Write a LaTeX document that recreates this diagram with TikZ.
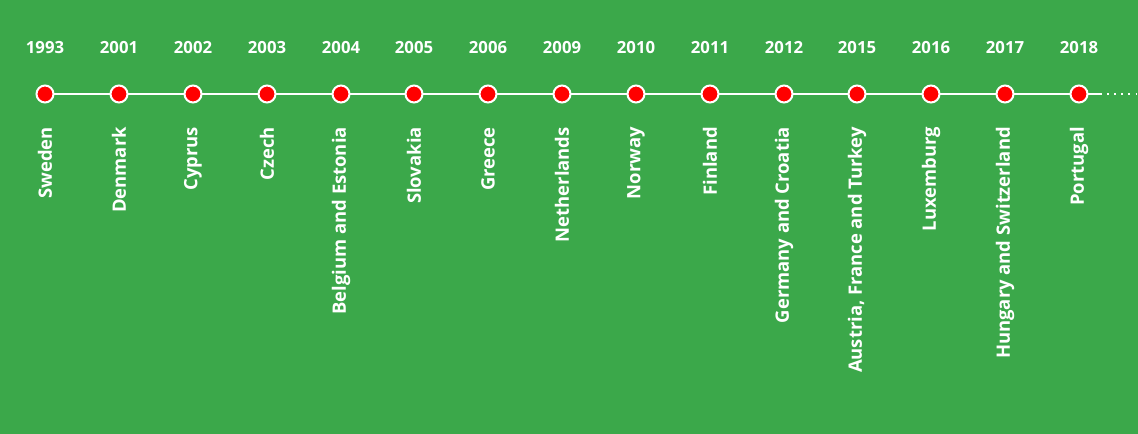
\documentclass[tikz,border=0pt]{standalone}
\usepackage{fontspec}
\setmainfont{Open Sans}
\definecolor{bggreen}{RGB}{59,168,74}
\definecolor{dotred}{RGB}{255,0,0}
\begin{document}
\begin{tikzpicture}[x=1bp,y=-1bp,
  yearlbl/.style={text=white,font=\bfseries\fontsize{16.8}{20}\selectfont,inner sep=0pt},
  countrylbl/.style={text=white,font=\bfseries\fontsize{18.5}{22}\selectfont,inner sep=0pt,rotate=90,anchor=east},
  tldot/.style={circle,fill=dotred,draw=white,line width=2bp,minimum size=17bp,inner sep=0pt},
  tlline/.style={white,line width=1.6bp}]
\fill[bggreen] (0,0) rectangle (1138,434);
\useasboundingbox (0,0) rectangle (1138,434);
\foreach \i/\yr/\c [count=\n] in {
  45/1993/Sweden, 119/2001/Denmark, 193/2002/Cyprus, 267/2003/Czech,
  341/2004/Belgium and Estonia, 414/2005/Slovakia, 488/2006/Greece,
  562/2009/Netherlands, 636/2010/Norway, 710/2011/Finland,
  784/2012/Germany and Croatia, 857/2015/{Austria, France and Turkey},
  931/2016/Luxemburg, 1005/2017/Hungary and Switzerland, 1079/2018/Portugal}{
  \node[yearlbl] (y\n) at (\i,48) {\yr};
  \node[countrylbl] (l\n) at (\i,127) {\c};
}
\coordinate (p1) at (45,94);
\foreach \i [count=\n from 2] in {119,193,267,341,414,488,562,636,710,784,857,931,1005,1079}{
  \coordinate (p\n) at (\i,94);
}
\coordinate (solidend) at (1100,94);
\coordinate (lineend) at (1138,94);
\draw[tlline] (p1) -- (p15) -- (solidend);
\draw[white,line width=1.6bp,dash pattern=on 1.6bp off 5.5bp] (solidend) -- (lineend);
\foreach \n in {1,...,15}{
  \node[tldot] (d\n) at (p\n) {};
}
\end{tikzpicture}
\end{document}
